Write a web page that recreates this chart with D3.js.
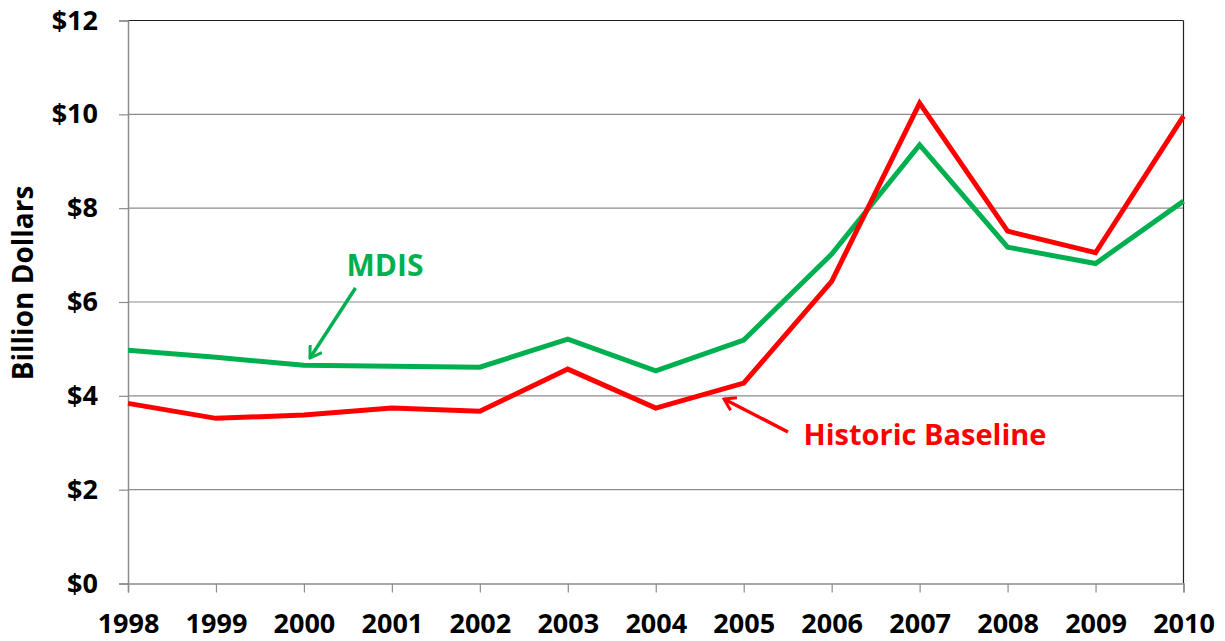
<!DOCTYPE html>
<html><head><meta charset="utf-8">
<script src="https://cdn.jsdelivr.net/npm/d3@7"></script>
<style>body{margin:0;background:#fff}svg{display:block}</style>
</head><body>
<script>
const years = [1998,1999,2000,2001,2002,2003,2004,2005,2006,2007,2008,2009,2010];
const historic = [3.84,3.52,3.59,3.74,3.67,4.57,3.74,4.27,6.44,10.24,7.51,7.05,9.96];
const mdis = [4.97,4.82,4.65,4.63,4.61,5.21,4.53,5.19,7.02,9.35,7.17,6.82,8.15];
const yTicks = [0,2,4,6,8,10,12];
const yTitle = "Billion Dollars";

const W=1225,H=641;
const L=128,R=1183.5,T=20.5,B=583.5;
const font="'Open Sans', Lato, sans-serif";
const svg=d3.select("body").append("svg").attr("width",W).attr("height",H);
const x=d3.scaleLinear().domain([1998,2010]).range([L,R]);
const y=d3.scaleLinear().domain([0,12]).range([B,T]);

// gridlines
svg.append("g").selectAll("line").data(yTicks.filter(d=>d>0&&d<12)).join("line")
 .attr("x1",L).attr("x2",R).attr("y1",d=>y(d)).attr("y2",d=>y(d))
 .attr("stroke","#8c8c8c").attr("stroke-width",1.2);
// top & right border
svg.append("line").attr("x1",L).attr("x2",R).attr("y1",y(12)).attr("y2",y(12)).attr("stroke","#222").attr("stroke-width",1.2);
svg.append("line").attr("x1",R).attr("x2",R).attr("y1",T).attr("y2",B).attr("stroke","#222").attr("stroke-width",1.2);

// y axis
const ya=svg.append("g").attr("transform",`translate(${L},0)`)
 .call(d3.axisLeft(y).tickValues(yTicks).tickFormat(d=>"$"+d).tickSize(9).tickPadding(21));
ya.select(".domain").attr("stroke","#8c8c8c").attr("stroke-width",1.5);
ya.selectAll(".tick line").attr("stroke","#8c8c8c").attr("stroke-width",1.2);
ya.selectAll("text").attr("font-family",font).attr("font-weight","bold").attr("font-size",27).attr("fill","#000");

// x axis
const xa=svg.append("g").attr("transform",`translate(0,${B})`)
 .call(d3.axisBottom(x).tickValues(years).tickFormat(d3.format("d")).tickSize(9));
xa.select(".domain").attr("stroke","#8c8c8c").attr("stroke-width",1.5);
xa.selectAll(".tick line").attr("stroke","#8c8c8c").attr("stroke-width",1.2);
xa.selectAll("text").attr("y",49.5).attr("dy","0").attr("font-family",font).attr("font-weight","bold").attr("font-size",27).attr("fill","#000");

// y title
svg.append("text").attr("transform","translate(33,283) rotate(-90)").attr("text-anchor","middle")
 .attr("font-family",font).attr("font-weight","bold").attr("font-size",28).text(yTitle);

const line=d3.line().x((d,i)=>x(years[i])).y(d=>y(d));
svg.append("path").datum(mdis).attr("d",line).attr("fill","none").attr("stroke","#00B050").attr("stroke-width",5).attr("stroke-linejoin","miter");
svg.append("path").datum(historic).attr("d",line).attr("fill","none").attr("stroke","#FF0000").attr("stroke-width",5).attr("stroke-linejoin","miter");

// arrows
const defs=svg.append("defs");
function marker(id,color){
 defs.append("marker").attr("id",id).attr("viewBox","-12 -8 14 16").attr("refX",0).attr("refY",0)
  .attr("markerWidth",14).attr("markerHeight",16).attr("markerUnits","userSpaceOnUse").attr("orient","auto")
  .append("path").attr("d","M-11,-7 L0,0 L-11,7").attr("fill","none").attr("stroke",color).attr("stroke-width",3);
}
marker("ag","#00B050"); marker("ar","#FF0000");
svg.append("line").attr("x1",355.5).attr("y1",288).attr("x2",310).attr("y2",358)
 .attr("stroke","#00B050").attr("stroke-width",3.5).attr("marker-end","url(#ag)");
svg.append("line").attr("x1",788).attr("y1",432).attr("x2",724).attr("y2",399)
 .attr("stroke","#FF0000").attr("stroke-width",3.5).attr("marker-end","url(#ar)");

svg.append("text").attr("x",385).attr("y",276).attr("text-anchor","middle").attr("fill","#00B050")
 .attr("font-family",font).attr("font-weight","bold").attr("font-size",30).text("MDIS");
svg.append("text").attr("x",925).attr("y",445).attr("text-anchor","middle").attr("fill","#FF0000")
 .attr("font-family",font).attr("font-weight","bold").attr("font-size",29).text("Historic Baseline");
</script>
</body></html>
